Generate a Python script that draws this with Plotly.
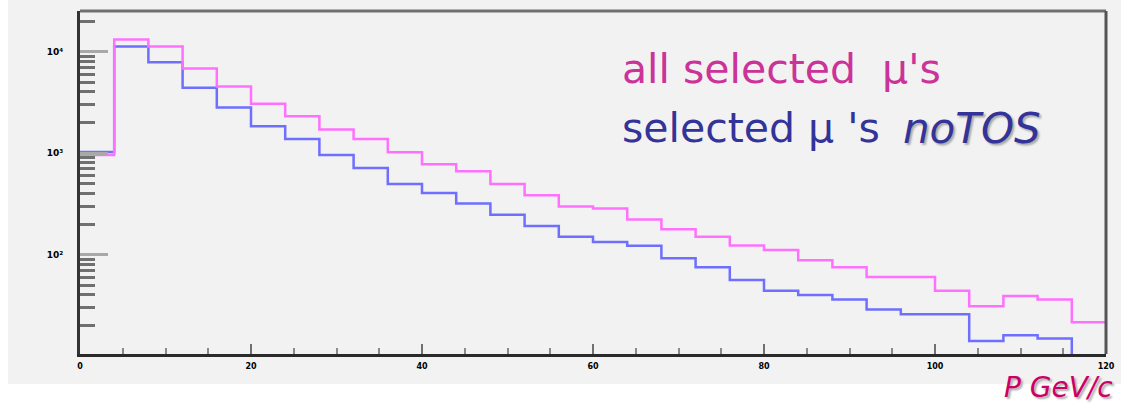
import plotly.graph_objects as go

# Bin edges (GeV/c), 4 GeV bins from 0 to 120
bin_edges = [0, 4, 8, 12, 16, 20, 24, 28, 32, 36, 40, 44, 48, 52, 56, 60,
             64, 68, 72, 76, 80, 84, 88, 92, 96, 100, 104, 108, 112, 116, 120]

# All selected muons (counts per bin)
all_selected = [955, 13180, 11250, 6830, 4540, 3060, 2300, 1712, 1374, 1016,
                774, 661, 495, 383, 298, 285, 222, 178, 150, 123,
                111, 88, 75, 60, 60, 44, 31, 39, 36, 21.5]

# Selected muons, no TOS
no_tos = [1023, 11250, 7830, 4400, 2820, 1833, 1374, 955, 711, 495,
          403, 319, 247, 191, 150, 133, 122, 92, 75, 56,
          44, 40, 36, 28.8, 25.8, 25.8, 14.1, 16.0, 14.9, 10]

x_ticks = [0, 20, 40, 60, 80, 100, 120]
y_tickvals = [100, 1000, 10000]
y_ticktext = ["10²", "10³", "10⁴"]
y_minor = [m * d for d in (10, 100, 1000, 10000) for m in range(2, 10)]

PINK = "#ff70ff"
BLUE = "#6f6fff"

def step(values):
    return bin_edges, list(values) + [values[-1]]

fig = go.Figure()
xs, ys = step(no_tos)
fig.add_trace(go.Scatter(x=xs, y=ys, mode="lines", line=dict(color=BLUE, width=2.5, shape="hv"),
                         showlegend=False, hoverinfo="skip"))
xs, ys = step(all_selected)
fig.add_trace(go.Scatter(x=xs, y=ys, mode="lines", line=dict(color=PINK, width=2.5, shape="hv"),
                         showlegend=False, hoverinfo="skip"))

fig.update_layout(
    width=1129, height=406,
    margin=dict(l=80, r=23, t=11, b=52),
    paper_bgcolor="white",
    plot_bgcolor="#f2f2f2",
    showlegend=False,
    font=dict(family="DejaVu Sans", color="black"),
)

fig.update_xaxes(
    range=[0, 120], tickvals=x_ticks, ticktext=[str(v) for v in x_ticks],
    ticks="inside", ticklen=10, tickwidth=2, tickcolor="#707070",
    minor=dict(ticks="inside", ticklen=6, tickwidth=2, tickcolor="#8a8a8a", dtick=5, showgrid=False),
    showgrid=False, zeroline=False,
    showline=True, linecolor="#2a2a2a", linewidth=3, mirror=False,
    tickfont=dict(size=8, color="black", weight="bold"),
    ticklabelstandoff=2,
)
fig.update_yaxes(
    type="log", range=[1.02, 4.40],
    tickvals=y_tickvals, ticktext=y_ticktext,
    ticks="inside", ticklen=28, tickwidth=3, tickcolor="#a8a8a8",
    minor=dict(ticks="inside", ticklen=15, tickwidth=3, tickcolor="#707070",
               tickvals=y_minor, showgrid=False),
    showgrid=False, zeroline=False,
    showline=True, linecolor="#333333", linewidth=3, mirror=False,
    tickfont=dict(size=9, color="black", weight="bold"),
    ticklabelstandoff=12,
)

# outer grey panel and top/right frame lines
fig.add_shape(type="rect", xref="paper", yref="paper",
              x0=-0.0702, x1=1.0146, y0=-0.0875, y1=1.04,
              fillcolor="#f2f2f2", line=dict(width=0), layer="below")
fig.add_shape(type="line", xref="paper", yref="paper", x0=0, x1=1, y0=1, y1=1,
              line=dict(color="#707070", width=3))
fig.add_shape(type="line", xref="paper", yref="paper", x0=1, x1=1, y0=0, y1=1,
              line=dict(color="#555555", width=3))

FONT = "DejaVu Sans"
fig.add_annotation(xref="paper", yref="paper", x=0.526, y=0.83, xanchor="left", yanchor="middle",
                   text="all selected  μ's", showarrow=False,
                   font=dict(family=FONT, size=41, color="#cc3399"))
fig.add_annotation(xref="paper", yref="paper", x=0.526, y=0.658, xanchor="left", yanchor="middle",
                   text="selected μ 's", showarrow=False,
                   font=dict(family=FONT, size=41, color="#333399"))
fig.add_annotation(xref="paper", yref="paper", x=0.8, y=0.658, xanchor="left", yanchor="middle",
                   text="noTOS", showarrow=False,
                   font=dict(family=FONT, size=42, color="#333399", style="italic",
                             shadow="2px 2px 2px #aaaaaa"))
fig.add_annotation(xref="paper", yref="paper", x=1.0088, y=-0.1516, xanchor="right", yanchor="bottom",
                   text="P GeV/c", showarrow=False,
                   font=dict(family=FONT, size=28, color="#cc0066", style="italic",
                             shadow="2px 2px 2px #aaaaaa"))

fig.write_html("out.html")
